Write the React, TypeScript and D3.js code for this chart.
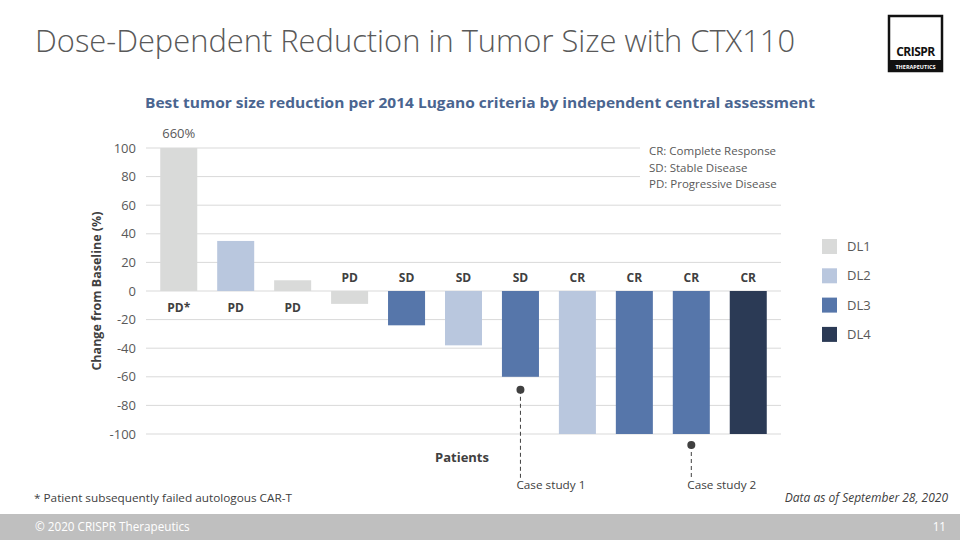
import * as d3 from 'd3'

// data
const patients = ['P1', 'P2', 'P3', 'P4', 'P5', 'P6', 'P7', 'P8', 'P9', 'P10', 'P11']
const changes = [660, 35, 7.5, -9, -24, -38, -60, -100, -100, -100, -100]
const responses = ['PD*', 'PD', 'PD', 'PD', 'SD', 'SD', 'SD', 'CR', 'CR', 'CR', 'CR']
const doseLevels = ['DL1', 'DL2', 'DL1', 'DL1', 'DL3', 'DL2', 'DL3', 'DL2', 'DL3', 'DL3', 'DL4']
const legendLevels = ['DL1', 'DL2', 'DL3', 'DL4']
const levelColors = ['#d9dad9', '#b9c7de', '#5676aa', '#2b3a55']
const yTicks = [100, 80, 60, 40, 20, 0, -20, -40, -60, -80, -100]
const responseNotes = ['CR: Complete Response', 'SD: Stable Disease', 'PD: Progressive Disease']
const caseStudies = [
  { patient: 'P7', label: 'Case study 1' },
  { patient: 'P10', label: 'Case study 2' },
]

const font = "'Open Sans', 'Liberation Sans', sans-serif"

export default function App() {
  const width = 960
  const height = 540
  const plot = { left: 146, right: 781, top: 148, bottom: 434 }

  const x = d3
    .scaleBand()
    .domain(patients)
    .range([plot.left, plot.right])
    .paddingInner(0.35)
    .paddingOuter(0.25)

  const y = d3.scaleLinear().domain([-100, 100]).range([plot.bottom, plot.top])
  const color = d3.scaleOrdinal<string, string>().domain(legendLevels).range(levelColors)

  const clip = (v: number) => Math.max(-100, Math.min(100, v))

  return (
    <svg
      width={width}
      height={height}
      style={{ position: 'absolute', left: 0, top: 0, background: '#fff', fontFamily: font }}
    >
      {/* Title */}
      <text
        x={35}
        y={52}
        fontSize={31}
        fontWeight={300}
        fill="#595959"
        textLength={760}
        lengthAdjust="spacingAndGlyphs"
      >
        Dose-Dependent Reduction in Tumor Size with CTX110
      </text>

      {/* Logo */}
      <g>
        <rect x={889} y={16} width={53} height={55} fill="none" stroke="#111" strokeWidth={2.5} />
        <text x={915.5} y={56} textAnchor="middle" fontSize={12} fontWeight={700} fill="#111" letterSpacing={-0.5}>
          CRISPR
        </text>
        <rect x={888} y={60} width={55} height={12} fill="#111" />
        <text x={915.5} y={68.5} textAnchor="middle" fontSize={5.5} fontWeight={700} fill="#fff">
          THERAPEUTICS
        </text>
      </g>

      {/* Subtitle */}
      <text
        x={480}
        y={108}
        textAnchor="middle"
        fontSize={15}
        fontWeight={700}
        fill="#4a6590"
        textLength={670}
        lengthAdjust="spacingAndGlyphs"
      >
        Best tumor size reduction per 2014 Lugano criteria by independent central assessment
      </text>

      {/* Gridlines and y ticks */}
      {yTicks.map(t => (
        <g key={t}>
          <line x1={plot.left} x2={plot.right} y1={y(t)} y2={y(t)} stroke="#d9d9d9" strokeWidth={1} />
          <text x={136} y={y(t)} dy="0.35em" textAnchor="end" fontSize={13} fill="#595959">
            {t}
          </text>
        </g>
      ))}

      {/* Y axis title */}
      <text
        transform={`translate(101,${y(0)}) rotate(-90)`}
        textAnchor="middle"
        fontSize={12.5}
        fontWeight={700}
        fill="#404040"
      >
        Change from Baseline (%)
      </text>

      {/* Bars */}
      {patients.map((p, i) => {
        const v = clip(changes[i])
        return (
          <rect
            key={p}
            x={x(p)!}
            y={Math.min(y(v), y(0))}
            width={x.bandwidth()}
            height={Math.abs(y(v) - y(0))}
            fill={color(doseLevels[i])}
          />
        )
      })}

      {/* Response labels */}
      {patients.map((p, i) => (
        <text
          key={p}
          x={x(p)! + x.bandwidth() / 2}
          y={changes[i] >= 0 ? y(0) + 21 : y(0) - 9}
          textAnchor="middle"
          fontSize={12}
          fontWeight={700}
          fill="#404040"
        >
          {responses[i]}
        </text>
      ))}

      {/* Off-scale value */}
      {patients
        .map((p, i) => ({ p, v: changes[i] }))
        .filter(d => d.v > 100)
        .map(d => (
          <text key={d.p} x={x(d.p)! + x.bandwidth() / 2} y={y(100) - 10} textAnchor="middle" fontSize={13} fill="#595959">
            {d.v}%
          </text>
        ))}

      {/* Response notes, on a white box over the gridlines */}
      <rect x={640} y={140} width={145} height={52} fill="#fff" />
      {responseNotes.map((n, i) => (
        <text key={n} x={649} y={155 + i * 16.5} fontSize={11.5} fill="#595959">
          {n}
        </text>
      ))}

      {/* Legend */}
      {legendLevels.map((l, i) => (
        <g key={l} transform={`translate(822,${239 + i * 29.3})`}>
          <rect width={15} height={15} fill={color(l)} />
          <text x={25} y={7.5} dy="0.35em" fontSize={13} fill="#595959">
            {l}
          </text>
        </g>
      ))}

      {/* X axis title */}
      <text x={462} y={462} textAnchor="middle" fontSize={13} fontWeight={700} fill="#404040">
        Patients
      </text>

      {/* Case studies */}
      {caseStudies.map(c => {
        const i = patients.indexOf(c.patient)
        const cx = x(c.patient)! + x.bandwidth() / 2
        const cy = y(clip(changes[i])) + (changes[i] <= -100 ? 11 : 13)
        return (
          <g key={c.label}>
            <line x1={cx} x2={cx} y1={cy} y2={478} stroke="#404040" strokeWidth={1} strokeDasharray="4,3" />
            <circle cx={cx} cy={cy} r={4} fill="#404040" />
            <text x={cx - 4} y={489} fontSize={11.5} fill="#404040" textLength={69} lengthAdjust="spacingAndGlyphs">
              {c.label}
            </text>
          </g>
        )
      })}

      {/* Footnotes */}
      <text x={34} y={502} fontSize={11.5} fill="#404040" textLength={258} lengthAdjust="spacingAndGlyphs">
        * Patient subsequently failed autologous CAR-T
      </text>
      <text x={948} y={502} textAnchor="end" fontSize={12} fontStyle="italic" fill="#404040">
        Data as of September 28, 2020
      </text>

      {/* Footer */}
      <rect x={0} y={514} width={width} height={26} fill="#bfbfbf" />
      <text x={35} y={531} fontSize={11.7} fill="#fff">
        © 2020 CRISPR Therapeutics
      </text>
      <text x={946} y={531} textAnchor="end" fontSize={11.7} fill="#fff">
        11
      </text>
    </svg>
  )
}
